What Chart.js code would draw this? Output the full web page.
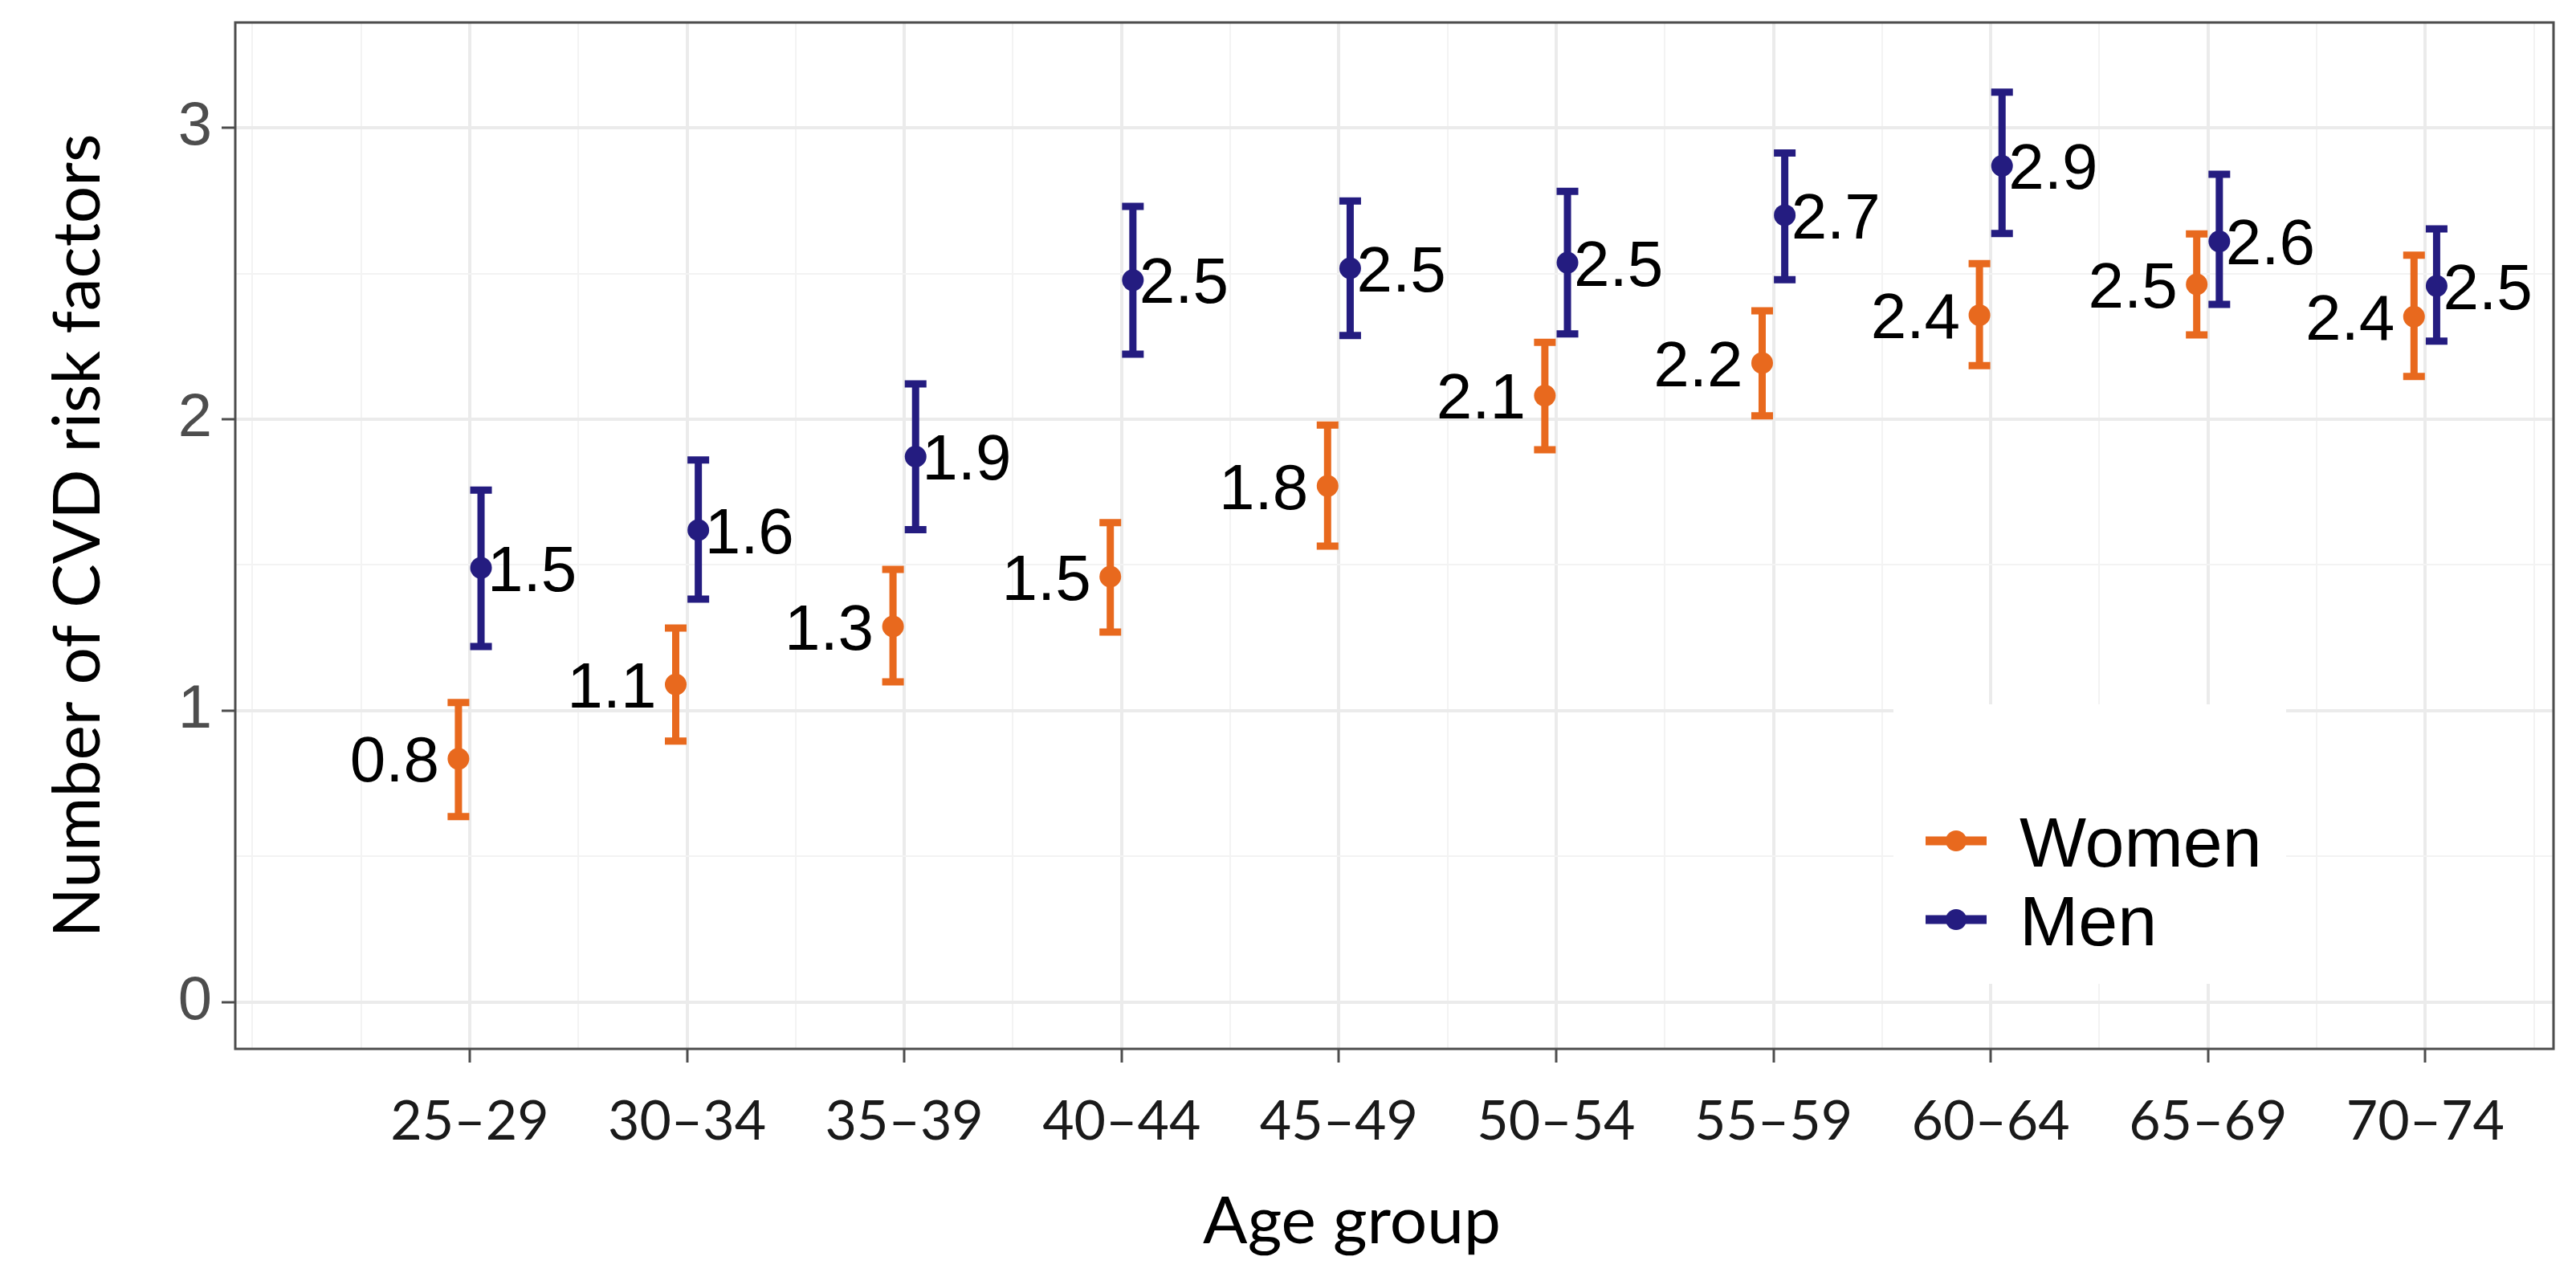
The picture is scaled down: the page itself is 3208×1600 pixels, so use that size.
<!DOCTYPE html>
<html>
<head>
<meta charset="utf-8">
<script src="https://cdn.jsdelivr.net/npm/chart.js@4.4.1/dist/chart.umd.min.js"></script>
<style>
  html, body { margin: 0; padding: 0; background: #ffffff; }
  canvas { display: block; }
</style>
</head>
<body>
<canvas id="chart" width="3208" height="1600"></canvas>
<script>
// ---------------- data ----------------
const ageGroups = ['25–29', '30–34', '35–39', '40–44', '45–49', '50–54', '55–59', '60–64', '65–69', '70–74'];
const seriesNames = ['Women', 'Men'];

const womenMean  = [0.835, 1.090, 1.289, 1.460, 1.771, 2.081, 2.193, 2.357, 2.463, 2.352];
const womenLower = [0.637, 0.896, 1.099, 1.270, 1.565, 1.895, 2.012, 2.184, 2.289, 2.147];
const womenUpper = [1.028, 1.284, 1.485, 1.645, 1.980, 2.264, 2.372, 2.534, 2.636, 2.563];

const menMean  = [1.490, 1.620, 1.872, 2.477, 2.518, 2.537, 2.700, 2.869, 2.610, 2.457];
const menLower = [1.220, 1.383, 1.621, 2.223, 2.287, 2.293, 2.479, 2.637, 2.394, 2.268];
const menUpper = [1.757, 1.860, 2.121, 2.730, 2.749, 2.782, 2.913, 3.122, 2.840, 2.653];

const yTickValues = [0, 0.5, 1, 1.5, 2, 2.5, 3];
const xGridValues = [-1, -0.5, 0, 0.5, 1, 1.5, 2, 2.5, 3, 3.5, 4, 4.5, 5, 5.5, 6, 6.5, 7, 7.5, 8, 8.5, 9, 9.5];

const xTitle = 'Age group';
const yTitle = 'Number of CVD risk factors';

// ---------------- style ----------------
const ORANGE = '#E8691E';
const NAVY = '#241C80';
const DODGE = 0.052;
const GRID_MAJOR = '#EBEBEB';
const GRID_MINOR = '#F3F3F3';
const AXIS_GREY = '#4D4D4D';

const isMajorX = v => Number.isInteger(v) && v >= 0;
const isMajorY = v => Number.isInteger(v);

const errorBarsPlugin = {
  id: 'errorBars',
  beforeDatasetsDraw(chart) {
    const { ctx, scales: { y } } = chart;
    chart.data.datasets.forEach((ds, di) => {
      const meta = chart.getDatasetMeta(di);
      ctx.save();
      ctx.strokeStyle = ds.borderColor;
      ctx.lineWidth = 9;
      ctx.lineCap = 'butt';
      meta.data.forEach((pt, i) => {
        const x = pt.x;
        const yl = y.getPixelForValue(ds.lower[i]);
        const yh = y.getPixelForValue(ds.upper[i]);
        ctx.beginPath();
        ctx.moveTo(x, yl); ctx.lineTo(x, yh);
        ctx.moveTo(x - 13.5, yl); ctx.lineTo(x + 13.5, yl);
        ctx.moveTo(x - 13.5, yh); ctx.lineTo(x + 13.5, yh);
        ctx.stroke();
      });
      ctx.restore();
    });
  }
};

const legendPlugin = {
  id: 'insideLegend',
  beforeDatasetsDraw(chart) {
    const { ctx, chartArea: a } = chart;
    const left = a.right - 822, top = a.bottom - 429;
    ctx.save();
    ctx.fillStyle = '#ffffff';
    ctx.fillRect(left, top, 489, 348);
    chart.data.datasets.forEach((ds, di) => {
      const cy = top + 170 + di * 98;
      const cx = left + 78;
      ctx.strokeStyle = ds.borderColor;
      ctx.lineWidth = 11;
      ctx.beginPath();
      ctx.moveTo(cx - 38, cy); ctx.lineTo(cx + 38, cy);
      ctx.stroke();
      ctx.fillStyle = ds.borderColor;
      ctx.beginPath();
      ctx.arc(cx, cy, 13, 0, Math.PI * 2);
      ctx.fill();
      ctx.fillStyle = '#000000';
      ctx.font = '88px "Liberation Sans", Arial, sans-serif';
      ctx.textAlign = 'left';
      ctx.textBaseline = 'alphabetic';
      ctx.fillText(ds.label, left + 157, cy + 32);
    });
    ctx.restore();
  }
};

const valueLabelsPlugin = {
  id: 'valueLabels',
  afterDatasetsDraw(chart) {
    const { ctx } = chart;
    ctx.save();
    ctx.font = '80px "Liberation Sans", Arial, sans-serif';
    ctx.fillStyle = '#000000';
    ctx.textBaseline = 'alphabetic';
    chart.data.datasets.forEach((ds, di) => {
      const meta = chart.getDatasetMeta(di);
      meta.data.forEach((pt, i) => {
        const txt = ds.data[i].y.toFixed(1);
        if (ds.labelSide < 0) {
          ctx.textAlign = 'right';
          ctx.fillText(txt, pt.x - 24, pt.y + 28.6);
        } else {
          ctx.textAlign = 'left';
          ctx.fillText(txt, pt.x + 8, pt.y + 28.6);
        }
      });
    });
    ctx.restore();
  }
};

const panelBorderPlugin = {
  id: 'panelBorder',
  afterDraw(chart) {
    const { ctx, chartArea: a } = chart;
    ctx.save();
    ctx.strokeStyle = AXIS_GREY;
    ctx.lineWidth = 3;
    ctx.strokeRect(a.left, a.top, a.right - a.left, a.bottom - a.top);
    // x axis title (placed slightly left of the panel centre, as in the original)
    ctx.fillStyle = '#000000';
    ctx.font = '82px Lato, sans-serif';
    ctx.textAlign = 'center';
    ctx.textBaseline = 'alphabetic';
    ctx.fillText(xTitle, (a.left + a.right) / 2 - 53, a.bottom + 242);
    ctx.restore();
  }
};

function build() {
  const ctx = document.getElementById('chart').getContext('2d');
  new Chart(ctx, {
    type: 'scatter',
    data: {
      datasets: [
        {
          label: seriesNames[0],
          data: womenMean.map((v, i) => ({ x: i - DODGE, y: v })),
          lower: womenLower, upper: womenUpper, labelSide: -1,
          backgroundColor: ORANGE, borderColor: ORANGE,
          pointRadius: 13.5, pointHoverRadius: 13.5, borderWidth: 0
        },
        {
          label: seriesNames[1],
          data: menMean.map((v, i) => ({ x: i + DODGE, y: v })),
          lower: menLower, upper: menUpper, labelSide: 1,
          backgroundColor: NAVY, borderColor: NAVY,
          pointRadius: 13.5, pointHoverRadius: 13.5, borderWidth: 0
        }
      ]
    },
    options: {
      responsive: false,
      animation: false,
      devicePixelRatio: 1,
      layout: { padding: { top: 28, right: 28, left: 0, bottom: 0 } },
      plugins: { legend: { display: false }, tooltip: { enabled: false }, title: { display: false } },
      scales: {
        x: {
          type: 'linear',
          min: -1.079,
          max: 9.59,
          afterBuildTicks: s => { s.ticks = xGridValues.map(v => ({ value: v })); },
          afterFit: s => { s.height = 294; s.paddingLeft = 0; s.paddingRight = 0; },
          border: { display: false },
          grid: {
            color: c => (c.tick && isMajorX(c.tick.value)) ? GRID_MAJOR : GRID_MINOR,
            lineWidth: c => (c.tick && isMajorX(c.tick.value)) ? 4 : 2,
            tickColor: c => (c.tick && isMajorX(c.tick.value)) ? AXIS_GREY : 'rgba(0,0,0,0)',
            tickLength: 17,
            tickWidth: 3
          },
          ticks: {
            autoSkip: false,
            maxRotation: 0,
            minRotation: 0,
            padding: 33,
            color: '#1A1A1A',
            font: { family: 'Lato', size: 68 },
            callback: v => isMajorX(v) ? ageGroups[v] : ''
          },
          title: { display: false }
        },
        y: {
          type: 'linear',
          min: -0.16,
          max: 3.361,
          afterBuildTicks: s => { s.ticks = yTickValues.map(v => ({ value: v })); },
          afterFit: s => { s.width = 293; s.paddingTop = 0; s.paddingBottom = 0; },
          border: { display: false },
          grid: {
            color: c => (c.tick && isMajorY(c.tick.value)) ? GRID_MAJOR : GRID_MINOR,
            lineWidth: c => (c.tick && isMajorY(c.tick.value)) ? 4 : 2,
            tickColor: c => (c.tick && isMajorY(c.tick.value)) ? AXIS_GREY : 'rgba(0,0,0,0)',
            tickLength: 17,
            tickWidth: 3
          },
          ticks: {
            padding: 12,
            color: AXIS_GREY,
            font: { family: 'Liberation Sans', size: 76 },
            callback: v => isMajorY(v) ? String(v) : ''
          },
          title: {
            display: true,
            text: yTitle,
            color: '#000000',
            font: { family: 'Lato', size: 82 },
            padding: { top: 48, bottom: 0 }
          }
        }
      }
    },
    plugins: [legendPlugin, errorBarsPlugin, valueLabelsPlugin, panelBorderPlugin]
  });
}

Promise.all([
  document.fonts.load('82px Lato'),
  document.fonts.load('80px "Liberation Sans"')
]).then(build, build);
</script>
</body>
</html>
